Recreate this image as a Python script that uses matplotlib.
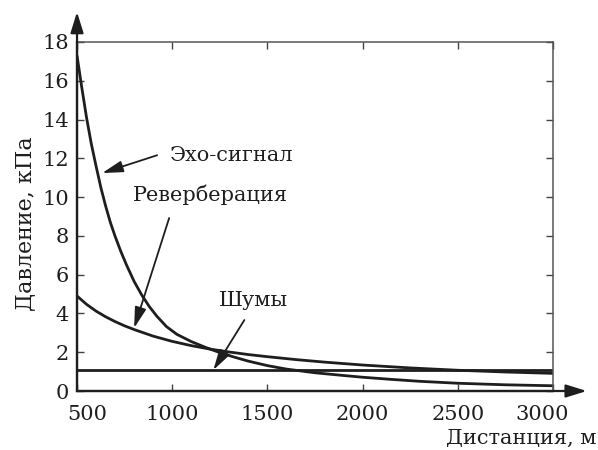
import matplotlib
matplotlib.use("Agg")
import matplotlib.pyplot as plt
from matplotlib.transforms import ScaledTranslation

# Дистанция, м  /  давление, кПа
echo_x = [500, 525, 550, 575, 600, 625, 650, 675, 700, 730, 760, 800, 840, 880,
          920, 970, 1025, 1100, 1175, 1250, 1325, 1400, 1500, 1600, 1750, 1900,
          2000, 2150, 2300, 2500, 2750, 3000]
echo_y = [17.3, 15.65, 14.1, 12.75, 11.6, 10.5, 9.55, 8.7, 7.98, 7.2, 6.5, 5.65,
          4.95, 4.35, 3.85, 3.32, 2.92, 2.55, 2.25, 1.98, 1.75, 1.54, 1.31, 1.13,
          0.94, 0.8, 0.71, 0.6, 0.5, 0.4, 0.32, 0.27]

reverb_x = [500, 550, 600, 650, 700, 750, 800, 850, 900, 1000, 1100, 1200, 1300,
            1400, 1500, 1650, 1800, 2000, 2250, 2500, 2750, 3000]
reverb_y = [4.9, 4.47, 4.12, 3.83, 3.58, 3.36, 3.17, 3.0, 2.83, 2.56, 2.34, 2.16,
            2.01, 1.88, 1.77, 1.62, 1.49, 1.34, 1.19, 1.07, 0.98, 0.91]

noise_x = [500, 3000]
noise_y = [1.1, 1.1]

x_ticks = [500, 1000, 1500, 2000, 2500, 3000]
y_ticks = [0, 2, 4, 6, 8, 10, 12, 14, 16, 18]

plt.rcParams['font.family'] = ['DejaVu Serif']
plt.rcParams['mathtext.fontset'] = 'dejavuserif'

ink = '#1e1e1e'
fig = plt.figure(figsize=(5.98, 4.5), dpi=100)
ax = fig.add_axes([0.1288, 0.1311, 0.7959, 0.7756])

line_kw = dict(color=ink, lw=2.0, solid_capstyle='butt', solid_joinstyle='round')
ax.plot(echo_x, echo_y, **line_kw)
ax.plot(reverb_x, reverb_y, **line_kw)
ax.plot(noise_x, noise_y, **line_kw)

ax.set_xlim(500, 3000)
ax.set_ylim(0, 18)
ax.set_xticks(x_ticks)
ax.set_yticks(y_ticks)
ax.tick_params(direction='in', length=5, width=1.0, colors='#444444',
               top=True, right=True, labelsize=15, labelcolor=ink)
ax.tick_params(axis='x', pad=10)
ax.tick_params(axis='y', pad=6)

for side in ('top', 'right'):
    ax.spines[side].set_color('#555555')
    ax.spines[side].set_linewidth(1.1)
for side in ('left', 'bottom'):
    ax.spines[side].set_color(ink)
    ax.spines[side].set_linewidth(1.6)

# nudge the outer x tick labels inward
labels = ax.get_xticklabels()
labels[0].set_transform(labels[0].get_transform() +
                        ScaledTranslation(10 / 100, 0, fig.dpi_scale_trans))
labels[-1].set_transform(labels[-1].get_transform() +
                         ScaledTranslation(-11 / 100, 0, fig.dpi_scale_trans))

# axis arrows
arrow_kw = dict(arrowstyle='-|>,head_length=0.9,head_width=0.28', color=ink,
                lw=1.6, shrinkA=0, shrinkB=0, mutation_scale=14)
ax.annotate('', xy=(0, 1.086), xytext=(0, 0), xycoords='axes fraction',
            textcoords='axes fraction', arrowprops=arrow_kw, annotation_clip=False)
ax.annotate('', xy=(1.071, 0), xytext=(0, 0), xycoords='axes fraction',
            textcoords='axes fraction', arrowprops=arrow_kw, annotation_clip=False)

# curve labels with pointers
ptr_kw = dict(arrowstyle='-|>,head_length=0.9,head_width=0.25', color=ink,
              lw=1.3, shrinkA=0, shrinkB=0, mutation_scale=14)
ax.annotate('', xy=(632, 11.24), xytext=(921, 12.16), arrowprops=ptr_kw)
ax.text(989, 12.16, 'Эхо-сигнал', fontsize=15, color=ink, ha='left', va='center')

ax.annotate('', xy=(800, 3.25), xytext=(984, 8.92), arrowprops=ptr_kw)
ax.text(1200, 10.1, 'Реверберация', fontsize=15, color=ink, ha='center', va='center')

ax.annotate('', xy=(1216, 1.08), xytext=(1379, 3.66), arrowprops=ptr_kw)
ax.text(1426, 4.69, 'Шумы', fontsize=15, color=ink, ha='center', va='center')

fig.text(25 / 598, 1 - 224 / 450, 'Давление, кПа', rotation=90, fontsize=16,
         color=ink, ha='center', va='center')
fig.text(597 / 598, 1 - 438 / 450, 'Дистанция, м', fontsize=15, color=ink,
         ha='right', va='center')

fig.savefig('out.png', dpi=100)
